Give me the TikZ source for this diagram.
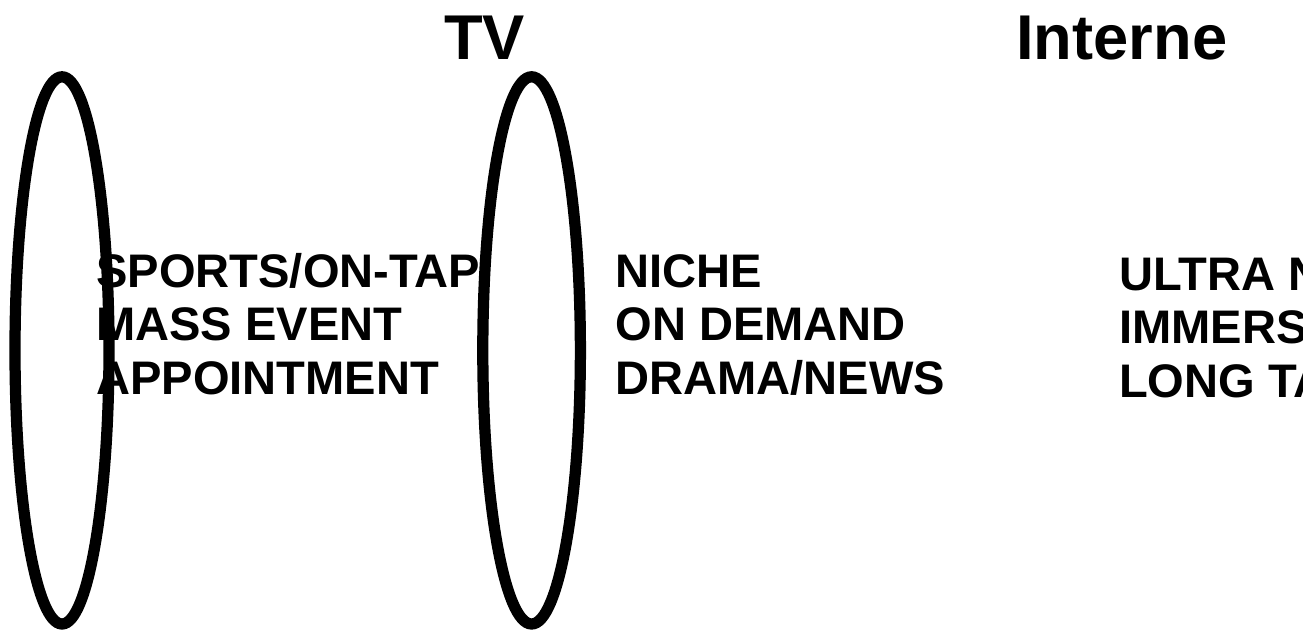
\documentclass[tikz,border=0pt]{standalone}
\usepackage{fontspec}
\setmainfont{Liberation Sans}

\tikzset{
  ring/.style={line width=8pt},
  head/.style={inner sep=0, anchor=base west, font=\fontsize{45}{54}\selectfont\bfseries},
  list/.style={inner sep=0, anchor=base west, align=left, font=\fontsize{33.5}{38}\selectfont\bfseries}
}

\begin{document}
\begin{tikzpicture}
\useasboundingbox (0, 0) rectangle (32.575, 15.75);
\clip (0, 0) rectangle (32.575, 15.75);
\draw[ring] (1.55, 6.99) ellipse (1.175 and 6.84);
\draw[ring] (13.29, 6.99) ellipse (1.22 and 6.84);
\node[head] (tv) at (11.1, 14.25) {TV};
\node[head] (net) at (25.4, 14.25) {Interne};
\node[list] (mass) at (2.4, 5.9) {SPORTS/ON-TAP\\MASS EVENT\\APPOINTMENT};
\node[list] (niche) at (15.38, 5.9) {NICHE\\ON DEMAND\\DRAMA/NEWS};
\node[list] (ultra) at (27.97, 5.82) {ULTRA N\\IMMERS\\LONG TA};
\end{tikzpicture}
\end{document}
